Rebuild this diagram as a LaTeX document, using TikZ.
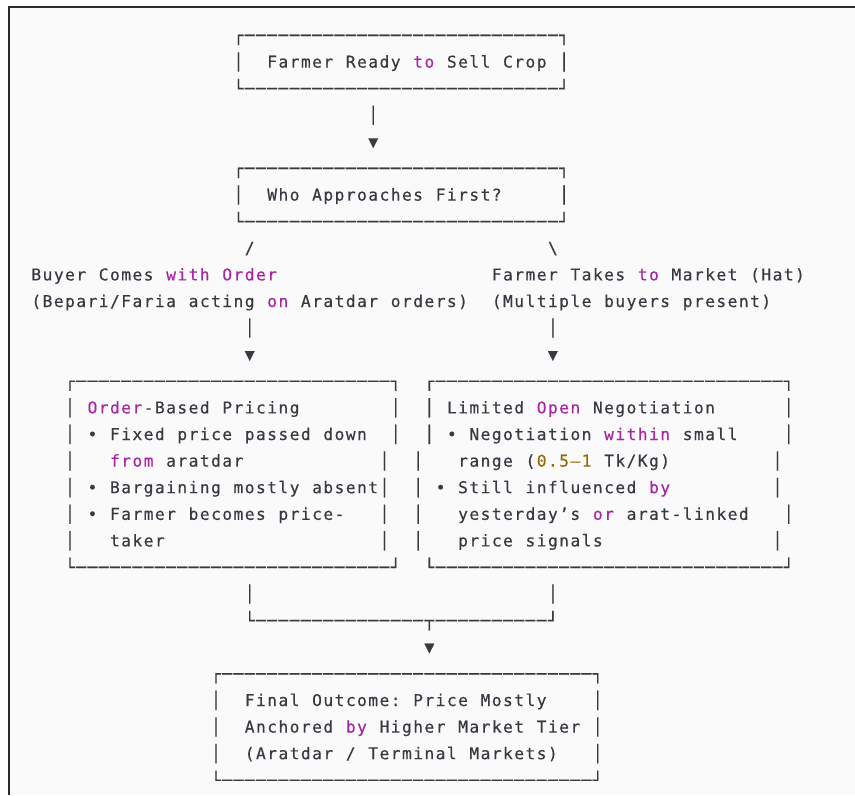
\documentclass[tikz,border=0pt]{standalone}
\usepackage{fontspec}
\usepackage{xcolor}
\newfontfamily\mono[FakeBold=0.35]{DejaVu Sans Mono}
\definecolor{fg}{HTML}{383A42}
\definecolor{kw}{HTML}{A626A4}
\definecolor{num}{HTML}{986801}
\definecolor{bg}{HTML}{FAFAFA}
\definecolor{frame}{HTML}{2A2A2A}
\newlength\cellw
\setlength\cellw{8.4225pt}
\ExplSyntaxOn
\NewDocumentCommand\gridtext{m}{\str_map_inline:nn{#1}{\makebox[\cellw][c]{##1}}}
\NewDocumentCommand\dashes{m}{\prg_replicate:nn{#1}{\makebox[\cellw][c]{─}}}
\ExplSyntaxOff
\tikzset{seg/.style={anchor=base west, inner sep=0pt, outer sep=0pt,
  font=\mono\fontsize{12.2}{14}\selectfont}}
% \seg[colour]{name}{column}{row}{text}
\newcommand\seg[5][fg]{\node[seg, text=#1] (#2) at ({30.7+11.23*#3},{41+26.6*#4}) {\gridtext{#5}};}
% \hrow{name}{column}{row}{left}{n}{right}
\newcommand\hrow[6]{\node[seg, text=fg] (#1) at ({30.7+11.23*#2},{41+26.6*#3}) {\gridtext{#4}\dashes{#5}\gridtext{#6}};}
\begin{document}
\begin{tikzpicture}[x=0.75pt,y=-0.75pt]
\useasboundingbox (0,0) rectangle (855,795);
\fill[white] (0,0) rectangle (855,795);
\fill[bg] (8,7) rectangle (855,795);
\draw[frame, line width=1.7pt] (8.7,795) -- (8.7,7.3) -- (855,7.3);
% box 1
\hrow{b1t}{18}{0}{┌}{28}{┐}
\seg{b1l}{18}{1}{│}
\seg{b1a}{21}{1}{Farmer Ready}
\seg[kw]{b1b}{34}{1}{to}
\seg{b1c}{37}{1}{Sell Crop}
\seg{b1r}{47}{1}{│}
\hrow{b1bot}{18}{2}{└}{28}{┘}
\seg{a1}{30}{3}{│}
\seg{a1h}{30}{4}{▼}
% box 2
\hrow{b2t}{18}{5}{┌}{28}{┐}
\seg{b2l}{18}{6}{│}
\seg{b2a}{21}{6}{Who Approaches First?}
\seg{b2r}{47}{6}{│}
\hrow{b2bot}{18}{7}{└}{28}{┘}
% branches
\seg{sl}{19}{8}{/}
\node[seg, text=fg] (bs) at ({30.7+11.23*46},{41+26.6*8}) {\makebox[\cellw][c]{\textbackslash}};
\seg{lb1}{0}{9}{Buyer Comes}
\seg[kw]{lb2}{12}{9}{with Order}
\seg{rb1}{41}{9}{Farmer Takes}
\seg[kw]{rb2}{54}{9}{to}
\seg{rb3}{57}{9}{Market (Hat)}
\seg{lc1}{0}{10}{(Bepari/Faria acting}
\seg[kw]{lc2}{21}{10}{on}
\seg{lc3}{24}{10}{Aratdar orders)}
\seg{rc1}{41}{10}{(Multiple buyers present)}
\seg{c1}{19}{11}{│}
\seg{c2}{46}{11}{│}
\seg{c1h}{19}{12}{▼}
\seg{c2h}{46}{12}{▼}
% box 3 (left)
\hrow{b3t}{3}{13}{┌}{28}{┐}
\seg{l14a}{3}{14}{│}
\seg[kw]{l14b}{5}{14}{Order}
\seg{l14c}{10}{14}{-Based Pricing}
\seg{l14d}{32}{14}{│}
\seg{l15a}{3}{15}{│}
\seg{l15b}{5}{15}{•}
\seg{l15c}{7}{15}{Fixed price passed down}
\seg{l15d}{32}{15}{│}
\seg{l16a}{3}{16}{│}
\seg[kw]{l16b}{7}{16}{from}
\seg{l16c}{12}{16}{aratdar}
\seg{l16d}{31}{16}{│}
\seg{l17a}{3}{17}{│}
\seg{l17b}{5}{17}{•}
\seg{l17c}{7}{17}{Bargaining mostly absent}
\seg{l17d}{31}{17}{│}
\seg{l18a}{3}{18}{│}
\seg{l18b}{5}{18}{•}
\seg{l18c}{7}{18}{Farmer becomes price-}
\seg{l18d}{31}{18}{│}
\seg{l19a}{3}{19}{│}
\seg{l19c}{7}{19}{taker}
\seg{l19d}{31}{19}{│}
\hrow{b3b}{3}{20}{└}{28}{┘}
% box 4 (right)
\hrow{b4t}{35}{13}{┌}{31}{┐}
\seg{r14a}{35}{14}{│}
\seg{r14b}{37}{14}{Limited}
\seg[kw]{r14c}{45}{14}{Open}
\seg{r14d}{50}{14}{Negotiation}
\seg{r14e}{67}{14}{│}
\seg{r15a}{35}{15}{│}
\seg{r15b}{37}{15}{•}
\seg{r15c}{39}{15}{Negotiation}
\seg[kw]{r15d}{51}{15}{within}
\seg{r15e}{58}{15}{small}
\seg{r15f}{67}{15}{│}
\seg{r16a}{34}{16}{│}
\seg{r16b}{38}{16}{range (}
\seg[num]{r16c}{45}{16}{0.5–1}
\seg{r16d}{51}{16}{Tk/Kg)}
\seg{r16e}{66}{16}{│}
\seg{r17a}{34}{17}{│}
\seg{r17b}{36}{17}{•}
\seg{r17c}{38}{17}{Still influenced}
\seg[kw]{r17d}{55}{17}{by}
\seg{r17e}{66}{17}{│}
\seg{r18a}{34}{18}{│}
\seg{r18b}{38}{18}{yesterday’s}
\seg[kw]{r18c}{50}{18}{or}
\seg{r18d}{53}{18}{arat-linked}
\seg{r18e}{67}{18}{│}
\seg{r19a}{34}{19}{│}
\seg{r19b}{38}{19}{price signals}
\seg{r19c}{66}{19}{│}
\hrow{b4b}{35}{20}{└}{31}{┘}
% merge
\seg{m1}{19}{21}{│}
\seg{m2}{46}{21}{│}
\node[seg, text=fg] (mj) at ({30.7+11.23*19},{41+26.6*22}) {\gridtext{└}\dashes{15}\gridtext{┬}\dashes{10}\gridtext{┘}};
\seg{mh}{35}{23}{▼}
% box 5
\hrow{b5t}{16}{24}{┌}{33}{┐}
\seg{f25a}{16}{25}{│}
\seg{f25b}{19}{25}{Final Outcome: Price Mostly}
\seg{f25c}{50}{25}{│}
\seg{f26a}{16}{26}{│}
\seg{f26b}{19}{26}{Anchored}
\seg[kw]{f26c}{28}{26}{by}
\seg{f26d}{31}{26}{Higher Market Tier}
\seg{f26e}{50}{26}{│}
\seg{f27a}{16}{27}{│}
\seg{f27b}{19}{27}{(Aratdar / Terminal Markets)}
\seg{f27c}{50}{27}{│}
\hrow{b5b}{16}{28}{└}{33}{┘}
\end{tikzpicture}
\end{document}
